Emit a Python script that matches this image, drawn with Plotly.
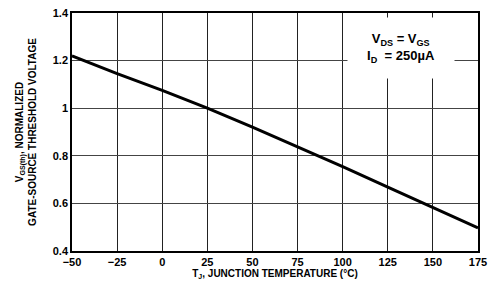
import plotly.graph_objects as go

temps = [-50, -25, 0, 25, 50, 75, 100, 125, 150, 175]
vgs_norm = [1.22, 1.145, 1.075, 1.0, 0.92, 0.838, 0.755, 0.668, 0.584, 0.497]
x_ticks = [-50, -25, 0, 25, 50, 75, 100, 125, 150, 175]
y_ticks = [0.4, 0.6, 0.8, 1.0, 1.2, 1.4]
y_tick_text = ["0.4", "0.6", "0.8", "1", "1.2", "1.4"]

FONT = "Liberation Sans Narrow, Arial Narrow, Liberation Sans, Arial, sans-serif"

fig = go.Figure()
fig.add_trace(go.Scatter(x=temps, y=vgs_norm, mode="lines",
                         line=dict(color="black", width=3), showlegend=False))

fig.update_layout(
    template="none",
    width=498, height=290,
    margin=dict(l=72, r=20, t=13, b=39),
    paper_bgcolor="white", plot_bgcolor="white",
    font=dict(family=FONT, color="black", size=11),
    xaxis=dict(range=[-50, 175], tickvals=x_ticks, showgrid=True, automargin=False,
               gridcolor="#222", gridwidth=1.3, showline=True, linecolor="black",
               linewidth=1.5, mirror=True, zeroline=False, ticks="",
               tickfont=dict(family=FONT, size=11, weight="bold"),
               title=dict(text="<b>T<sub>J</sub>, JUNCTION TEMPERATURE (°C)</b>",
                          font=dict(family=FONT, size=10), standoff=2)),
    yaxis=dict(range=[0.4, 1.4], tickvals=y_ticks, ticktext=y_tick_text, automargin=False,
               showgrid=True, gridcolor="#444", gridwidth=1, showline=True,
               linecolor="black", linewidth=1.5, mirror=True, zeroline=False,
               ticks="", tickfont=dict(family=FONT, size=11, weight="bold"),
               title=dict(text="<b>V<sub>GS(th)</sub>, NORMALIZED<br>GATE-SOURCE THRESHOLD VOLTAGE</b>",
                          font=dict(family=FONT, size=10), standoff=14)),
)

fig.add_annotation(xref="paper", yref="paper", x=0.81, y=0.855,
                   text="<b>V<sub>DS</sub> = V<sub>GS</sub><br>I<sub>D</sub>  = 250µA</b>",
                   showarrow=False, bgcolor="white", align="center", valign="middle",
                   width=100, height=54,
                   font=dict(family=FONT, size=13, color="black"),
                   xanchor="center", yanchor="middle", borderpad=3)

# remove the default 8px page margin so the figure fills the window exactly
fig.write_html("out.html", config={"displayModeBar": False},
               post_script="document.body.style.margin='0px';")
